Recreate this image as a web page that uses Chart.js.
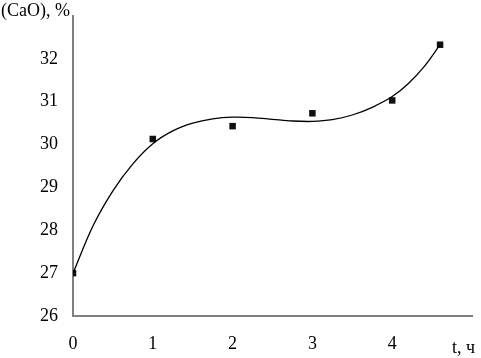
<!DOCTYPE html>
<html>
<head>
<meta charset="utf-8">
<script src="https://cdn.jsdelivr.net/npm/chart.js@4"></script>
<style>
  body { margin: 0; background: #fff; }
  #wrap { width: 481px; height: 358px; }
</style>
</head>
<body>
<div id="wrap"><canvas id="myChart"></canvas></div>
<script>
// measured points
const timeHours = [0, 1, 2, 3, 4, 4.6];
const caoPercent = [27.0, 30.13, 30.43, 30.73, 31.03, 32.33];

// trend curve
const curveX = [0, 0.25, 0.5, 0.75, 1, 1.25, 1.5, 1.75, 2, 2.25, 2.5, 2.75, 3, 3.25, 3.5, 3.75, 4, 4.2, 4.4, 4.6];
const curveY = [27.0, 28.1, 28.92, 29.55, 30.02, 30.32, 30.5, 30.6, 30.64, 30.63, 30.59, 30.55, 30.54, 30.58, 30.69, 30.87, 31.12, 31.42, 31.82, 32.33];

const xTickLabels = ["0", "1", "2", "3", "4"];
const yTickLabels = ["26", "27", "28", "29", "30", "31", "32"];

const serif = "'Liberation Serif', 'DejaVu Serif', serif";

const extraText = {
  id: "extraText",
  afterDraw(chart) {
    const ctx = chart.ctx;
    ctx.save();
    ctx.fillStyle = "#000";
    ctx.font = "18px " + serif;
    ctx.textBaseline = "alphabetic";
    ctx.textAlign = "left";
    ctx.fillText("(CaO), %", 1, 16);
    ctx.fillText("t, ч", 452, 353);
    ctx.restore();
  },
};

const ctx = document.getElementById("myChart").getContext("2d");

new Chart(ctx, {
  type: "scatter",
  data: {
    datasets: [
      {
        label: "trend",
        data: curveX.map((x, i) => ({ x: x, y: curveY[i] })),
        showLine: true,
        borderColor: "#000",
        borderWidth: 1.3,
        tension: 0.35,
        pointRadius: 0,
        fill: false,
      },
      {
        label: "CaO",
        data: timeHours.map((x, i) => ({ x: x, y: caoPercent[i] })),
        pointStyle: "rect",
        pointRadius: 4.6,
        backgroundColor: "#111",
        borderColor: "#111",
        borderWidth: 0,
      },
    ],
  },
  options: {
    responsive: true,
    maintainAspectRatio: false,
    animation: false,
    layout: { padding: { top: 16, right: 9, left: 0, bottom: 0 } },
    plugins: {
      legend: { display: false },
      tooltip: { enabled: false },
    },
    scales: {
      x: {
        type: "linear",
        min: 0,
        max: 5,
        grid: { display: false, drawTicks: false },
        border: { display: true, color: "#808080", width: 2 },
        afterBuildTicks: (scale) => {
          scale.ticks = xTickLabels.map((t) => ({ value: Number(t) }));
        },
        ticks: {
          color: "#000",
          font: { family: serif, size: 18 },
          padding: 17,
          maxRotation: 0,
        },
        afterFit: (scale) => {
          scale.height = 42;
          scale.paddingLeft = 0;
          scale.paddingRight = 0;
        },
      },
      y: {
        min: 26,
        max: 33,
        grid: { display: false, drawTicks: false },
        border: { display: true, color: "#808080", width: 2 },
        afterBuildTicks: (scale) => {
          scale.ticks = yTickLabels.map((t) => ({ value: Number(t) }));
        },
        ticks: {
          color: "#000",
          font: { family: serif, size: 18 },
          padding: 15,
        },
        afterFit: (scale) => {
          scale.width = 73;
          scale.paddingTop = 0;
          scale.paddingBottom = 0;
        },
      },
    },
  },
  plugins: [extraText],
});
</script>
</body>
</html>
